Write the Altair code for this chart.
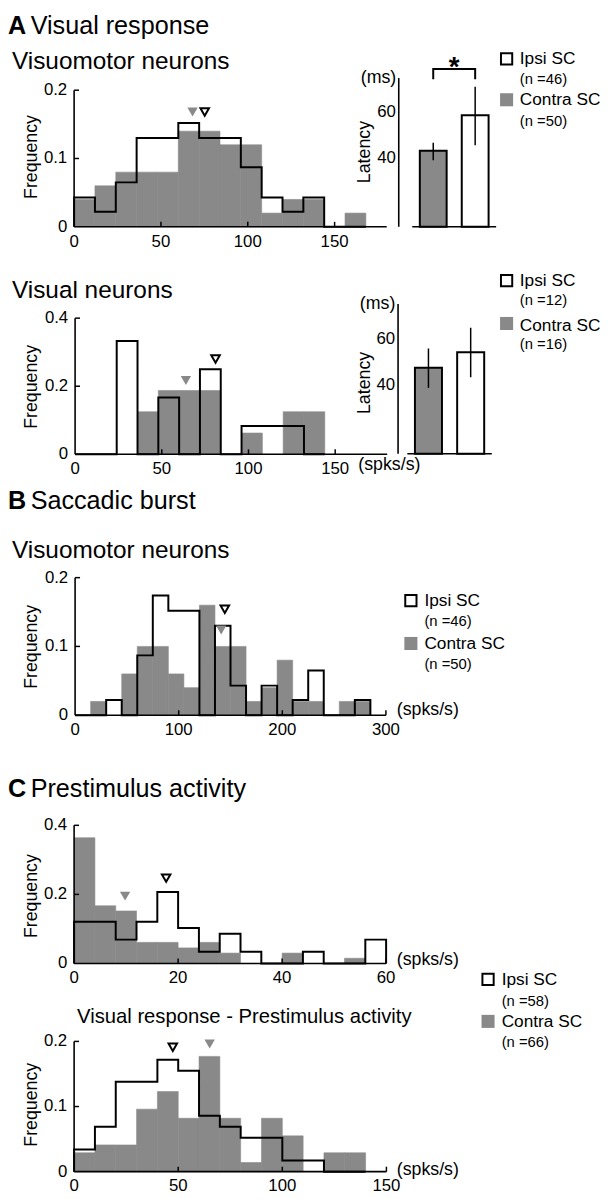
import altair as alt
import pandas as pd

# ------------------------------------------------------------------ data
GROUPS = ["Contra SC", "Ipsi SC"]

# A  Visual response - visuomotor neurons (bin width 12 spks/s)
A1_BINS = [0, 12, 24, 36, 48, 60, 72, 84, 96, 108, 120, 132, 144, 156]
A1_CONTRA = [0.04, 0.06, 0.08, 0.08, 0.08, 0.14, 0.14, 0.12, 0.12, 0.02, 0.04, 0.04, 0.0, 0.02]
A1_IPSI = [0.043, 0.022, 0.065, 0.130, 0.130, 0.152, 0.130, 0.130, 0.087, 0.043, 0.022, 0.043, 0.0, 0.0]
A1_MEDIAN = [68.2, 75.2]
A1_MARK_Y = [0.168, 0.168]
A1_LAT_MEAN = [43.2, 58.7]
A1_LAT_LO = [39.1, 45.6]
A1_LAT_HI = [46.7, 71.2]
A1_N = [50, 46]

# A  Visual response - visual neurons (bin width 12 spks/s)
A2_BINS = [0, 12, 24, 36, 48, 60, 72, 84, 96, 108, 120, 132]
A2_CONTRA = [0, 0, 0, 0.125, 0.1875, 0.1875, 0.1875, 0, 0.0625, 0, 0.125, 0.125]
A2_IPSI = [0, 0, 0.333, 0, 0.167, 0, 0.25, 0, 0.083, 0.083, 0.083, 0]
A2_MEDIAN = [63.9, 81.0]
A2_MARK_Y = [0.217, 0.280]
A2_LAT_MEAN = [47.3, 54.1]
A2_LAT_LO = [38.6, 43.2]
A2_LAT_HI = [55.7, 64.7]
A2_N = [16, 12]

# B  Saccadic burst - visuomotor neurons (bin width 15 spks/s)
B_BINS = [0, 15, 30, 45, 60, 75, 90, 105, 120, 135, 150, 165, 180, 195, 210, 225, 240, 255, 270]
B_CONTRA = [0, 0.02, 0, 0.06, 0.10, 0.10, 0.06, 0.04, 0.16, 0.10, 0.10, 0.02, 0.04, 0.08, 0.02, 0.02, 0, 0.02, 0.02]
B_IPSI = [0, 0, 0.022, 0, 0.087, 0.174, 0.152, 0.152, 0, 0.130, 0.043, 0, 0.043, 0, 0.022, 0.065, 0, 0, 0.022]
B_MEDIAN = [141.0, 144.5]
B_MARK_Y = [0.124, 0.154]
B_N = [50, 46]

# C  Prestimulus activity (bin width 4 spks/s)
C1_BINS = [0, 4, 8, 12, 16, 20, 24, 28, 32, 36, 40, 44, 48, 52, 56]
C1_CONTRA = [0.364, 0.167, 0.152, 0.061, 0.061, 0.045, 0.061, 0.030, 0, 0, 0.030, 0, 0, 0.015, 0]
C1_IPSI = [0.121, 0.121, 0.069, 0.121, 0.207, 0.103, 0.034, 0.086, 0.034, 0, 0, 0.034, 0, 0, 0.069]
C1_MEDIAN = [9.8, 17.7]
C1_MARK_Y = [0.195, 0.247]

# C  Visual response - Prestimulus activity (bin width 10 spks/s)
C2_BINS = [0, 10, 20, 30, 40, 50, 60, 70, 80, 90, 100, 110, 120, 130]
C2_CONTRA = [0.029, 0.041, 0.041, 0.096, 0.123, 0.082, 0.177, 0.082, 0.014, 0.082, 0.055, 0, 0.029, 0.029]
C2_IPSI = [0.034, 0.069, 0.138, 0.138, 0.172, 0.155, 0.086, 0.069, 0.052, 0.052, 0.017, 0.017, 0, 0]
C2_MEDIAN = [65.1, 47.4]
C2_MARK_Y = [0.196, 0.191]
C_N = [66, 58]

LAT_DOMAIN = [10, 75]
LAT_TICKS = [40, 60]

# ------------------------------------------------------------------ style / layout
FONT = "Liberation Sans"
GRAY = "#898989"
MARGIN = 8
W, H = 603, 1191
AXW = 1.6


def P(v):
    """page pixel -> chart pixel"""
    return v - MARGIN


ONE = pd.DataFrame({"k": [0]})


def text(t, x, y, size, weight="normal", align="left", angle=0):
    kw = dict(text=t, font=FONT, fontSize=size, fontWeight=weight, align=align,
              baseline="middle", color="black")
    if angle:
        kw["angle"] = angle
    return alt.Chart(ONE).mark_text(**kw).encode(x=alt.value(P(x)), y=alt.value(P(y)))


def hist_panel(bins, bw, contra, ipsi, median, mark_y, xdom, ydom, xticks, yticks, geo, unit=None):
    x0, x1, y0, y1, fty = geo
    xs = alt.Scale(domain=xdom, range=[P(x0), P(x1)], nice=False, zero=False)
    ys = alt.Scale(domain=ydom, range=[P(y0), P(y1)], nice=False, zero=False)

    def X(f):
        return alt.X(f, scale=xs, axis=None)

    def Y(f):
        return alt.Y(f, scale=ys, axis=None)

    bars_df = pd.DataFrame({"lo": bins, "hi": [b + bw for b in bins], "freq": contra})
    bars_df = bars_df[bars_df["freq"] > 0]
    bars = alt.Chart(bars_df).mark_rect(fill=GRAY, stroke=GRAY, strokeWidth=0.6).encode(
        x=X("lo:Q"), x2="hi", y=Y("freq:Q"), y2=alt.datum(0))

    px = [bins[0]] + list(bins) + [bins[-1] + bw, bins[-1] + bw]
    pv = [0] + list(ipsi) + [ipsi[-1], 0]
    step_df = pd.DataFrame({"i": list(range(len(px))), "x": px, "v": pv})
    step = alt.Chart(step_df).mark_line(
        interpolate="step-after", color="black", strokeWidth=2
    ).encode(x=X("x:Q"), y=Y("v:Q"), order="i:Q")

    # axes (domain lines, inward ticks, labels)
    xline = alt.Chart(ONE).mark_rule(color="black", strokeWidth=AXW).encode(
        x=alt.XDatum(xdom[0], scale=xs, axis=None), x2=alt.datum(xdom[1]),
        y=alt.YDatum(ydom[0], scale=ys, axis=None))
    yline = alt.Chart(ONE).mark_rule(color="black", strokeWidth=AXW).encode(
        x=alt.XDatum(xdom[0], scale=xs, axis=None),
        y=alt.YDatum(ydom[0], scale=ys, axis=None), y2=alt.datum(ydom[1]))

    xt = pd.DataFrame({"t": xticks, "lab": [f"{t:g}" for t in xticks]})
    yt = pd.DataFrame({"t": yticks, "lab": [f"{t:g}" for t in yticks]})
    xtick = alt.Chart(xt[xt["t"] > xdom[0]]).mark_tick(
        orient="vertical", size=5, thickness=1.5, yOffset=-2.5, color="black", opacity=1
    ).encode(x=X("t:Q"), y=alt.YDatum(ydom[0], scale=ys, axis=None))
    ytick = alt.Chart(yt[yt["t"] > ydom[0]]).mark_tick(
        orient="horizontal", size=5, thickness=1.5, xOffset=2.5, color="black", opacity=1
    ).encode(y=Y("t:Q"), x=alt.XDatum(xdom[0], scale=xs, axis=None))
    xlab = alt.Chart(xt).mark_text(
        font=FONT, fontSize=17, align="center", baseline="middle", dy=15, color="black"
    ).encode(x=X("t:Q"), y=alt.YDatum(ydom[0], scale=ys, axis=None), text="lab:N")
    ylab = alt.Chart(yt).mark_text(
        font=FONT, fontSize=17, align="right", baseline="middle", dx=-7, color="black"
    ).encode(y=Y("t:Q"), x=alt.XDatum(xdom[0], scale=xs, axis=None), text="lab:N")

    mk = pd.DataFrame({"g": GROUPS, "m": median, "y": mark_y})
    tri_c = alt.Chart(mk.iloc[[0]]).mark_point(
        shape="triangle-down", filled=True, fill=GRAY, size=110, opacity=1, strokeWidth=0
    ).encode(x=X("m:Q"), y=Y("y:Q"))
    tri_i = alt.Chart(mk.iloc[[1]]).mark_point(
        shape="triangle-down", filled=False, color="black", strokeWidth=2, size=75, opacity=1
    ).encode(x=X("m:Q"), y=Y("y:Q"))

    parts = [alt.layer(bars, step, xline, yline, xtick, ytick, xlab, ylab, tri_c, tri_i),
             text("Frequency", 32.5, fty, 18, angle=270, align="center")]
    if unit is not None:
        parts.append(text("(spks/s)", unit[0], unit[1], 18))
    return parts


def latency_panel(mean, lo, hi, axis_x, base_y, top_y, bar_x, lat_title_y, ms_xy, sig=False):
    xs = alt.Scale(domain=[0.5, 2.5], range=[P(bar_x[0]), P(bar_x[1])], nice=False, zero=False)
    ys = alt.Scale(domain=LAT_DOMAIN, range=[P(base_y), P(top_y)], nice=False, zero=False)

    def X(f):
        return alt.X(f, scale=xs, axis=None)

    def Y(f):
        return alt.Y(f, scale=ys, axis=None)

    df = pd.DataFrame({"g": GROUPS, "pos": [1, 2], "mean": mean, "lo": lo, "hi": hi})
    bars = alt.Chart(df).transform_calculate(
        l="datum.pos - 0.32", r="datum.pos + 0.32"
    ).mark_rect(stroke="black", strokeWidth=2).encode(
        x=X("l:Q"), x2="r", y=Y("mean:Q"), y2=alt.datum(LAT_DOMAIN[0]),
        fill=alt.Fill("g:N", scale=alt.Scale(domain=GROUPS, range=[GRAY, "white"]), legend=None),
    )
    err = alt.Chart(df).mark_rule(color="black", strokeWidth=1.5).encode(
        x=X("pos:Q"), y=Y("lo:Q"), y2="hi")
    yline = alt.Chart(ONE).mark_rule(color="black", strokeWidth=AXW).encode(
        x=alt.value(P(axis_x)), y=alt.YDatum(LAT_DOMAIN[0], scale=ys, axis=None),
        y2=alt.datum(LAT_DOMAIN[1]))
    xline = alt.Chart(ONE).mark_rule(color="black", strokeWidth=AXW).encode(
        x=alt.XDatum(0.5, scale=xs, axis=None), x2=alt.datum(2.5),
        y=alt.YDatum(LAT_DOMAIN[0], scale=ys, axis=None))
    lt = pd.DataFrame({"t": LAT_TICKS, "lab": [str(t) for t in LAT_TICKS]})
    ylab = alt.Chart(lt).mark_text(
        font=FONT, fontSize=17, align="right", baseline="middle", dx=-3, color="black"
    ).encode(x=alt.value(P(axis_x)), y=Y("t:Q"), text="lab:N")
    layers = [bars, err, yline, xline, ylab]
    if sig:
        level, leg = 79.0, 74.5
        br = pd.DataFrame({"i": [0, 1, 2, 3], "x": [1, 1, 2, 2], "y": [leg, level, level, leg]})
        layers.append(alt.Chart(br).mark_line(color="black", strokeWidth=2).encode(
            x=X("x:Q"), y=Y("y:Q"), order="i:Q"))
        star = pd.DataFrame({"x": [1.5], "y": [76.0]})
        layers.append(alt.Chart(star).mark_text(
            text="*", font=FONT, fontSize=28, fontWeight="bold", baseline="alphabetic",
            align="center", color="black"
        ).encode(x=X("x:Q"), y=Y("y:Q")))
    return [alt.layer(*layers),
            text("Latency", 370, lat_title_y, 18, angle=270, align="center"),
            text("(ms)", ms_xy[0], ms_xy[1], 18, align="right")]


def legend(sq_x, tx, ys, n):
    y_sq_i, y_i, y_ni, y_sq_c, y_c, y_nc = ys
    sq_i = alt.Chart(ONE).mark_square(size=130, fill="white", stroke="black", strokeWidth=2,
                                      opacity=1).encode(x=alt.value(P(sq_x)), y=alt.value(P(y_sq_i)))
    sq_c = alt.Chart(ONE).mark_square(size=175, fill=GRAY, strokeWidth=0,
                                      opacity=1).encode(x=alt.value(P(sq_x)), y=alt.value(P(y_sq_c)))
    return [sq_i, text("Ipsi SC", tx, y_i, 17.5), text(f"(n ={n[1]})", tx, y_ni, 15),
            sq_c, text("Contra SC", tx, y_c, 17.5), text(f"(n ={n[0]})", tx, y_nc, 15)]


layers = []

# ---- A
layers += [text("A", 8, 18.5, 25.5, "bold"), text("Visual response", 31, 18.5, 25.5),
           text("Visuomotor neurons", 12, 55, 24.7), text("Visual neurons", 12, 287, 24.7)]
layers += hist_panel(A1_BINS, 12, A1_CONTRA, A1_IPSI, A1_MEDIAN, A1_MARK_Y,
                     [0, 180], [0, 0.2], [0, 50, 100, 150], [0, 0.1, 0.2],
                     (75, 391.8, 221.7, 83.3, 151))
layers += latency_panel(A1_LAT_MEAN, A1_LAT_LO, A1_LAT_HI, 404, 221.7, 71,
                        (417.7, 502.7), 146, (401.5, 71.5), sig=True)
layers += legend(513.3, 526.7, (51.5, 52, 71.7, 93, 93.7, 115), A1_N)

layers += hist_panel(A2_BINS, 12, A2_CONTRA, A2_IPSI, A2_MEDIAN, A2_MARK_Y,
                     [0, 180], [0, 0.4], [0, 50, 100, 150], [0, 0.2, 0.4],
                     (76, 392.3, 452.3, 314.3, 384), unit=(363, 463))
layers += latency_panel(A2_LAT_MEAN, A2_LAT_LO, A2_LAT_HI, 403.3, 451.7, 300,
                        (412.7, 498.3), 380, (400.5, 300))
layers += legend(513.3, 526.7, (276.2, 276.7, 296.3, 319.7, 322, 341), A2_N)

# ---- B
layers += [text("B", 8, 500, 25.5, "bold"), text("Saccadic burst", 31, 500, 25.5),
           text("Visuomotor neurons", 12, 550, 24.7)]
layers += hist_panel(B_BINS, 15, B_CONTRA, B_IPSI, B_MEDIAN, B_MARK_Y,
                     [0, 300], [0, 0.2], [0, 100, 200, 300], [0, 0.1, 0.2],
                     (76, 391, 716.7, 577.3, 647.5), unit=(402, 712))
layers += legend(416.3, 430, (600.5, 601, 621.7, 644, 645, 665), B_N)

# ---- C
layers += [text("C", 8, 792, 25.5, "bold"), text("Prestimulus activity", 31, 792, 25.5),
           text("Visual response - Prestimulus activity", 78, 1023, 20.5)]
layers += hist_panel(C1_BINS, 4, C1_CONTRA, C1_IPSI, C1_MEDIAN, C1_MARK_Y,
                     [0, 60], [0, 0.4], [0, 20, 40, 60], [0, 0.2, 0.4],
                     (75, 391.2, 968.3, 828.3, 900), unit=(402, 965))
layers += hist_panel(C2_BINS, 10, C2_CONTRA, C2_IPSI, C2_MEDIAN, C2_MARK_Y,
                     [0, 150], [0, 0.2], [0, 50, 100, 150], [0, 0.1, 0.2],
                     (75, 391.5, 1179.3, 1047.3, 1111.5), unit=(402, 1178))
layers += legend(494.5, 508.3, (984.5, 985, 1006, 1027, 1028, 1048), C_N)

chart = alt.layer(*layers).resolve_scale(
    x="independent", y="independent"
).properties(
    width=W, height=H, autosize=alt.AutoSizeParams(type="none"), padding=0
).configure_view(
    strokeWidth=0
)

chart.save("out.html", embed_options={"renderer": "svg", "actions": False})
